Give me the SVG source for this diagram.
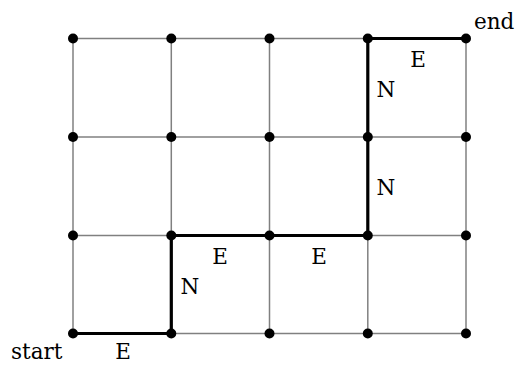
<svg xmlns="http://www.w3.org/2000/svg" width="520" height="365" viewBox="0 0 520 365">
<style>
.grid{stroke:#808080;stroke-width:1.5;fill:none}
.path{stroke:#000;stroke-width:3.2;fill:none;stroke-linejoin:miter}
.dot{fill:#000}
text{font-family:"DejaVu Serif","Liberation Serif",serif;font-size:21.5px;fill:#000}
</style>
<rect width="520" height="365" fill="#fff"/>
<g id="connectors">
<g class="grid">
<line x1="73" y1="38.5" x2="466" y2="38.5"/>
<line x1="73" y1="137" x2="466" y2="137"/>
<line x1="73" y1="235.5" x2="466" y2="235.5"/>
<line x1="73" y1="333.5" x2="466" y2="333.5"/>
<line x1="73" y1="38.5" x2="73" y2="333.5"/>
<line x1="171.3" y1="38.5" x2="171.3" y2="333.5"/>
<line x1="269.5" y1="38.5" x2="269.5" y2="333.5"/>
<line x1="367.8" y1="38.5" x2="367.8" y2="333.5"/>
<line x1="466" y1="38.5" x2="466" y2="333.5"/>
</g>
<polyline class="path" points="73,333.5 171.3,333.5 171.3,235.5 367.8,235.5 367.8,38.5 466,38.5"/>
</g>
<g id="nodes">
<g id="r0"><circle class="dot" cx="73" cy="38.5" r="5"/><circle class="dot" cx="171.3" cy="38.5" r="5"/><circle class="dot" cx="269.5" cy="38.5" r="5"/><circle class="dot" cx="367.8" cy="38.5" r="5"/><circle class="dot" cx="466" cy="38.5" r="5"/></g>
<g id="r1"><circle class="dot" cx="73" cy="137" r="5"/><circle class="dot" cx="171.3" cy="137" r="5"/><circle class="dot" cx="269.5" cy="137" r="5"/><circle class="dot" cx="367.8" cy="137" r="5"/><circle class="dot" cx="466" cy="137" r="5"/></g>
<g id="r2"><circle class="dot" cx="73" cy="235.5" r="5"/><circle class="dot" cx="171.3" cy="235.5" r="5"/><circle class="dot" cx="269.5" cy="235.5" r="5"/><circle class="dot" cx="367.8" cy="235.5" r="5"/><circle class="dot" cx="466" cy="235.5" r="5"/></g>
<g id="r3"><circle class="dot" cx="73" cy="333.5" r="5"/><circle class="dot" cx="171.3" cy="333.5" r="5"/><circle class="dot" cx="269.5" cy="333.5" r="5"/><circle class="dot" cx="367.8" cy="333.5" r="5"/><circle class="dot" cx="466" cy="333.5" r="5"/></g>
</g>
<g id="labels">
<text x="11" y="359">start</text>
<text x="123" y="359" text-anchor="middle">E</text>
<text x="474" y="29">end</text>
<text x="418" y="67" text-anchor="middle">E</text>
<text x="386" y="97" text-anchor="middle">N</text>
<text x="386" y="195" text-anchor="middle">N</text>
<text x="220" y="264" text-anchor="middle">E</text>
<text x="319" y="264" text-anchor="middle">E</text>
<text x="190" y="294" text-anchor="middle">N</text>
</g>
</svg>
